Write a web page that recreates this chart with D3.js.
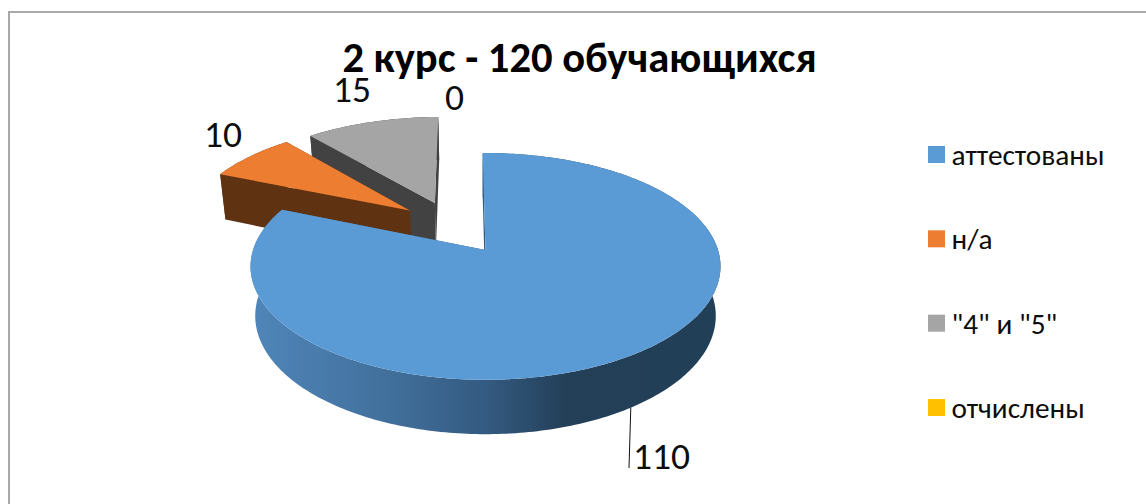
<!DOCTYPE html>
<html><head><meta charset="utf-8">
<script src="https://cdn.jsdelivr.net/npm/d3@7/dist/d3.min.js"></script>
<style>html,body{margin:0;padding:0;background:#fff}svg{display:block}text{font-family:Carlito,Calibri,Lato,"Open Sans",sans-serif;fill:#0d0d0d}</style>
</head><body><svg id="c" width="1146" height="504"></svg>
<script>
const titleText = "2 курс - 120 обучающихся";
const categories = ["аттестованы", "н/а", "\"4\" и \"5\"", "отчислены"];
const values = [110, 10, 15, 0];
const topColors = ["#5b9bd5", "#ed7d31", "#a5a5a5", "#ffc000"];
const wallColors = ["url(#blueWall)", "#5f3211", "#424242", "#7f6000"];
const explode = [[0, 0], [-0.343, 0.375], [-0.232, 0.451], [-0.232, 0.451]];
const labelAnchors = [[633, 469], [204, 147], [333, 102], [445, 110]];

const svg = d3.select("#c");
const cx = 485.5, cy = 250, Rx = 232.5, Ry = 111, persp = 0.145, shrink = 0.98, depth = 48.7;
const rotation = -0.8 * Math.PI / 180;

// perspective projection of a disc point (u right, v far, z 0 top / 1 bottom)
function project(u, v, z) {
  const w = 1 + persp * v, s = z ? shrink : 1;
  return [cx + Rx * u * s / w, cy + (-Ry * v * s + (z ? depth : 0)) / w];
}
const pie = d3.pie().sort(null).value(d => d).startAngle(rotation).endAngle(rotation + 2 * Math.PI);
const arcs = pie(values);
const line = d3.line();

function rimPoint(a, off, z) { return project(off[0] + Math.sin(a), off[1] + Math.cos(a), z); }
function rimAngles(a0, a1) { const n = Math.max(2, Math.ceil((a1 - a0) * 60)); return d3.range(n + 1).map(i => a0 + (a1 - a0) * i / n); }

const defs = svg.append("defs");
const grad = defs.append("linearGradient").attr("id", "blueWall").attr("gradientUnits", "userSpaceOnUse")
  .attr("x1", 250).attr("x2", 725).attr("y1", 0).attr("y2", 0);
[[0, "#5086ba"], [0.3, "#416f9b"], [0.5, "#335a80"], [0.66, "#244059"], [1, "#223f58"]]
  .forEach(s => grad.append("stop").attr("offset", s[0]).attr("stop-color", s[1]));

svg.append("rect").attr("x", 9).attr("y", 12).attr("width", 1150).attr("height", 520)
  .attr("fill", "#fff").attr("stroke", "#a9a9a9").attr("stroke-width", 2);

const order = [3, 2, 1, 0];
order.forEach(i => {
  const d = arcs[i];
  if (d.endAngle - d.startAngle < 1e-6) return;
  const off = explode[i];
  const g = svg.append("g").attr("class", "slice");
  const ang = rimAngles(d.startAngle, d.endAngle);
  const face = (a) => [project(off[0], off[1], 0), rimPoint(a, off, 0), rimPoint(a, off, 1), project(off[0], off[1], 1)];
  g.append("path").attr("d", line(face(d.endAngle)) + "Z").attr("fill", wallColors[i]);
  g.append("path").attr("d", line(face(d.startAngle)) + "Z").attr("fill", wallColors[i]);
  const rim = ang.map(a => rimPoint(a, off, 0)).concat(ang.slice().reverse().map(a => rimPoint(a, off, 1)));
  g.append("path").attr("d", line(rim) + "Z").attr("fill", wallColors[i]);
  const top = [project(off[0], off[1], 0)].concat(ang.map(a => rimPoint(a, off, 0)));
  g.append("path").attr("d", line(top) + "Z").attr("fill", topColors[i]);
});

// title
svg.append("text").attr("x", 579.5).attr("y", 72).attr("text-anchor", "middle")
  .attr("font-size", 42.6).attr("font-weight", 700).style("fill", "#000").text(titleText);

// leader line and data labels
const mid = (arcs[0].startAngle + arcs[0].endAngle) / 2;
const leaderStart = rimPoint(mid, explode[0], 1);
svg.append("line").attr("x1", leaderStart[0]).attr("y1", leaderStart[1])
  .attr("x2", labelAnchors[0][0] - 4).attr("y2", labelAnchors[0][1] - 1).attr("stroke", "#111").attr("stroke-width", 1);
values.forEach((v, i) => {
  svg.append("text").attr("x", labelAnchors[i][0]).attr("y", labelAnchors[i][1]).attr("font-size", 37.5).text(v);
});

// legend
const legendY = d3.scalePoint().domain(categories).range([146, 399]);
const lg = svg.append("g").selectAll("g").data(categories).join("g")
  .attr("transform", d => `translate(928,${legendY(d)})`);
lg.append("rect").attr("width", 17).attr("height", 17).attr("fill", (d, i) => topColors[i]);
lg.append("text").attr("x", 23.5).attr("y", 19).attr("font-size", 29.3).text(d => d);
</script></body></html>
